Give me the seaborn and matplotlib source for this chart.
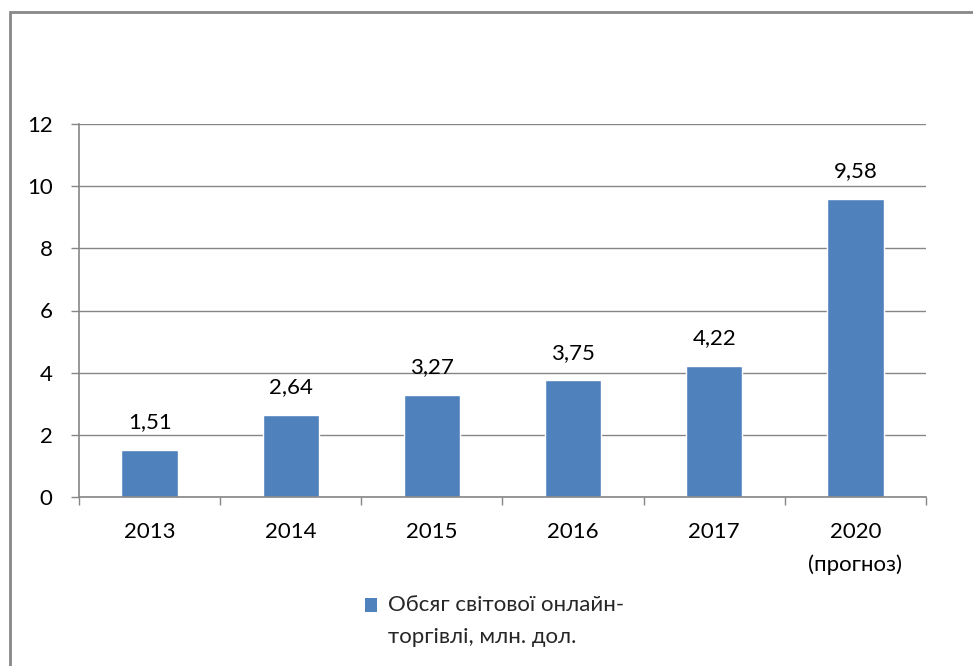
import matplotlib
matplotlib.use("Agg")
import matplotlib.pyplot as plt
import seaborn as sns
import pandas as pd
from matplotlib.patches import Rectangle
from matplotlib.legend_handler import HandlerPatch

categories = ["2013", "2014", "2015", "2016", "2017", "2020\n(прогноз)"]
values = [1.51, 2.64, 3.27, 3.75, 4.22, 9.58]
value_labels = ["1,51", "2,64", "3,27", "3,75", "4,22", "9,58"]
y_ticks = [0, 2, 4, 6, 8, 10, 12]
series_name = "Обсяг світової онлайн-\nторгівлі, млн. дол."

FS = 16
LS = 1.75

sns.set_theme(style="white")
plt.rcParams['font.family'] = ['Lato', 'DejaVu Sans']

df = pd.DataFrame({"year": categories, "value": values})

fig = plt.figure(figsize=(9.73, 6.66), dpi=100)
ax = fig.add_axes([79/973, 1-497/666, (926-79)/973, (497-124)/666])

bar_color = "#4F81BD"
grid_color = "#868686"
sns.barplot(data=df, x="year", y="value", ax=ax, color=bar_color, width=0.4,
            saturation=1, label=series_name)

ax.set_ylim(0, 12)
ax.set_xlim(-0.5, len(categories) - 0.5)
ax.set_yticks(y_ticks)
ax.set_yticklabels([str(t) for t in y_ticks])
ax.set_xlabel("")
ax.set_ylabel("")

ax.yaxis.grid(True, color=grid_color, linewidth=1)
ax.set_axisbelow(True)
for s in ["top", "right"]:
    ax.spines[s].set_visible(False)
for s in ["left", "bottom"]:
    ax.spines[s].set_color(grid_color)
    ax.spines[s].set_linewidth(1.2)

ax.tick_params(axis="y", which="major", length=6, width=1, color=grid_color,
               direction="out", left=True, pad=13, labelsize=FS, labelcolor="black")
ax.tick_params(axis="x", which="major", length=0, pad=18, labelsize=FS, labelcolor="black")
ax.set_xticks([i + 0.5 for i in range(-1, len(categories))], minor=True)
ax.tick_params(axis="x", which="minor", length=6, width=1, color=grid_color,
               direction="out", bottom=True)
for lab in ax.get_xticklabels():
    lab.set_linespacing(LS)

for i, (v, lab) in enumerate(zip(values, value_labels)):
    ax.annotate(lab, xy=(i, v), xytext=(0, 20), textcoords="offset points",
                ha="center", va="center", fontsize=FS, color="black")


class TopLineHandler(HandlerPatch):
    """Square legend key aligned with the first line of a two-line label."""
    def create_artists(self, legend, orig_handle, xdescent, ydescent,
                       width, height, fontsize, trans):
        shift = fontsize * 0.72
        p = Rectangle((-xdescent, -ydescent + shift), width, height,
                      facecolor=bar_color, edgecolor="none", transform=trans)
        return [p]


handles, labels = ax.get_legend_handles_labels()
leg = ax.legend(handles, labels, loc="upper left",
                bbox_to_anchor=(365/973, 1-595/666),
                bbox_transform=fig.transFigure, frameon=False, fontsize=FS,
                handlelength=0.55, handleheight=0.55, handletextpad=0.5,
                borderpad=0, borderaxespad=0,
                handler_map={type(handles[0]): TopLineHandler()})
for t in leg.get_texts():
    t.set_linespacing(LS)

fig.patches.append(Rectangle((10/973, -0.1), 1.2, 1 - 12/666 + 0.1,
                             transform=fig.transFigure, fill=False,
                             edgecolor="#888888", linewidth=2))

fig.savefig("out.png", dpi=100)
